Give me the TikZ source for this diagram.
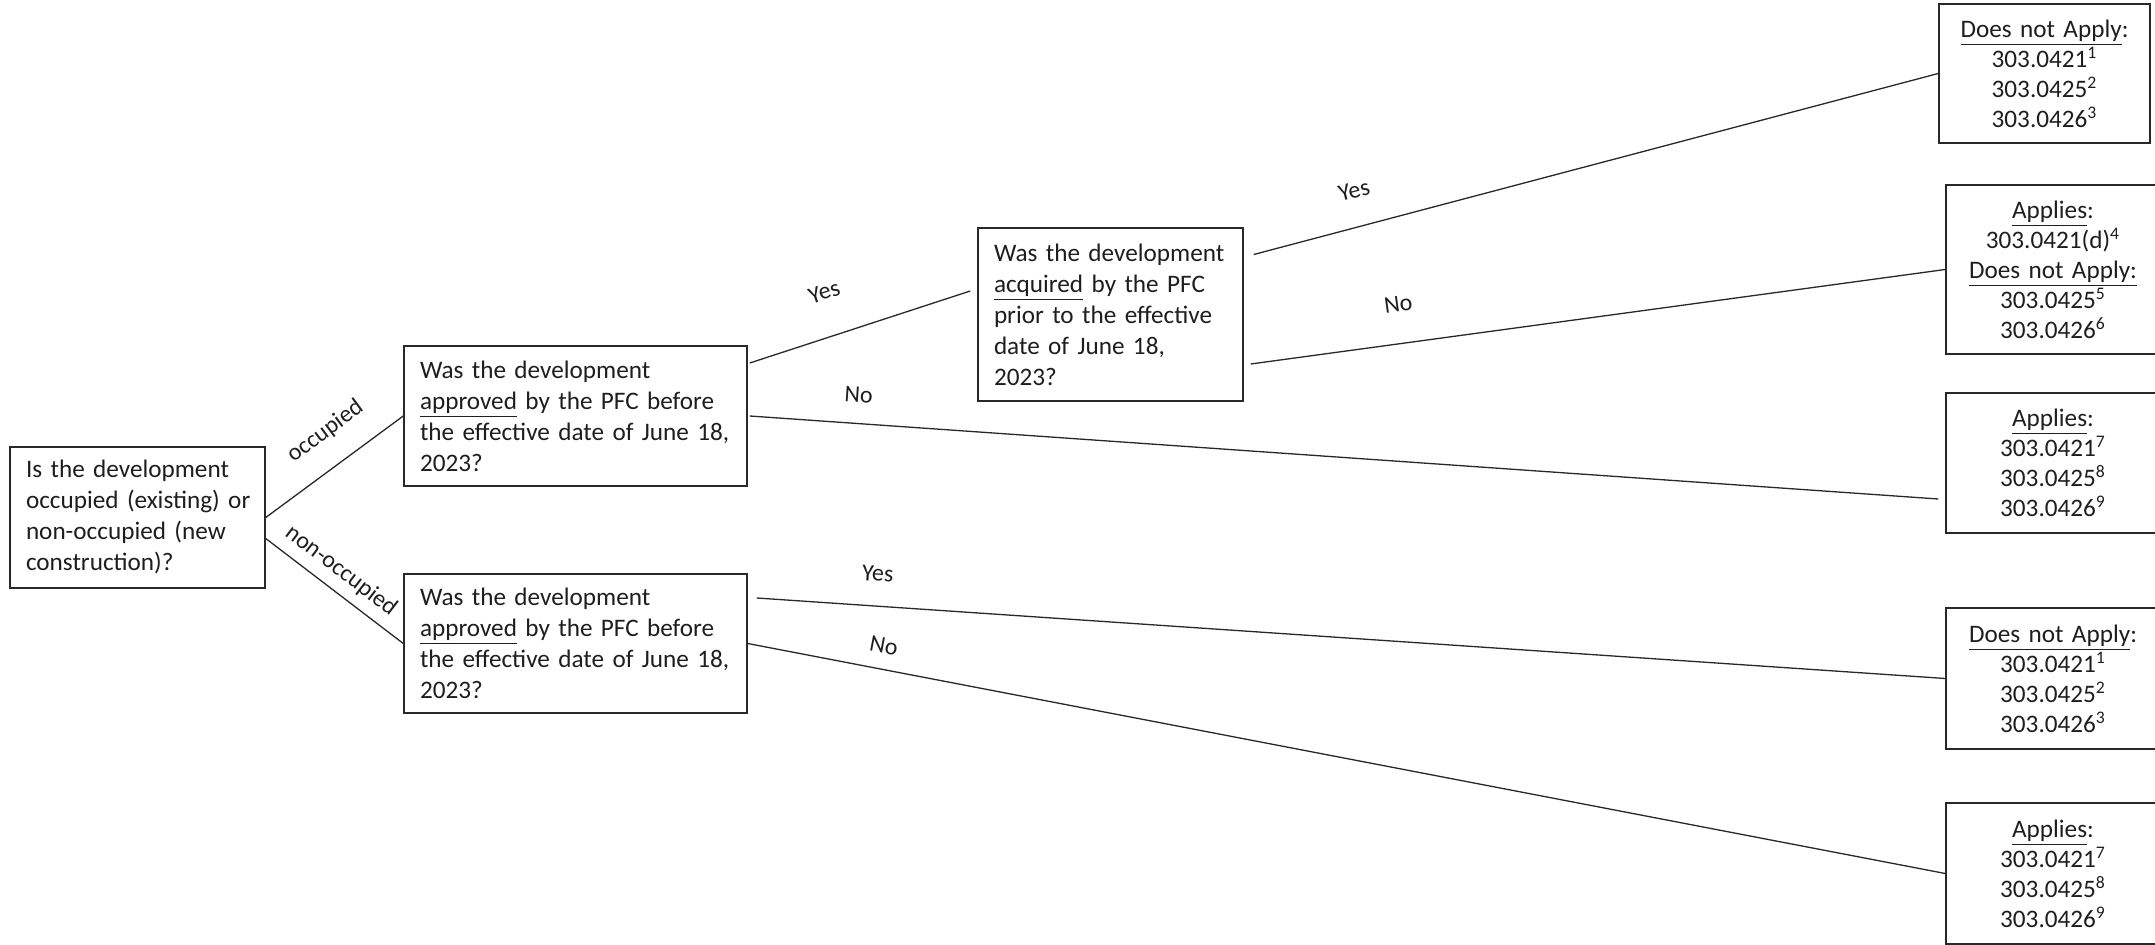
\documentclass[tikz,border=0pt]{standalone}
\usepackage{fontspec}
\setmainfont{Carlito}
\usepackage{tikz}
\usetikzlibrary{positioning}
\definecolor{treeInk}{RGB}{30, 30, 30}
\definecolor{treeRule}{RGB}{40, 40, 40}

\begin{document}
\begin{tikzpicture}[x=0.5pt, y=-0.5pt,
    question/.style={draw=treeRule, line width=0.75pt, text=treeInk, align=left,
        inner xsep=8pt, inner ysep=0pt, font=\fontsize{12.6pt}{15.5pt}\selectfont},
    outcome/.style={draw=treeRule, line width=0.75pt, text=treeInk, align=center,
        inner xsep=4pt, inner ysep=0pt, font=\fontsize{12.6pt}{15pt}\selectfont},
    branch/.style={draw=treeRule, line width=0.65pt},
    tag/.style={sloped, inner sep=0pt, text=treeInk, font=\fontsize{12pt}{14pt}\selectfont}]
    \useasboundingbox (0,0) rectangle (2155,945);
    \clip (0,0) rectangle (2155,945);

    \node[question, inner xsep=6pt, text width=115.5pt, minimum height=70.5pt] (start) at (137.5,517.5)
        {\hspace*{2pt}Is the development\\\hspace*{2pt}occupied (existing) or\\\hspace*{2pt}non-occupied (new\\\hspace*{2pt}construction)?};
    \node[question, text width=155.5pt, minimum height=70pt] (apprOcc) at (575.5,416)
        {Was the development\\\underline{approved} by the PFC before\\the effective date of June 18,\\2023?};
    \node[question, text width=155.5pt, minimum height=69.5pt] (apprNew) at (575.5,643.5)
        {Was the development\\\underline{approved} by the PFC before\\the effective date of June 18,\\2023?};
    \node[question, text width=116.5pt, minimum height=86.5pt] (acqOcc) at (1110.5,314.5)
        {Was the development\\\underline{acquired} by the PFC\\prior to the effective\\date of June 18,\\2023?};

    \node[outcome, text width=97.5pt, minimum height=69.5pt] (resA) at (2044.5,73.5)
        {\underline{Does not Apply}:\\303.0421\textsuperscript{1}\\303.0425\textsuperscript{2}\\303.0426\textsuperscript{3}};
    \node[outcome, text width=99pt, minimum height=84.5pt] (resB) at (2053,269.5)
        {\underline{Applies}:\\303.0421(d)\textsuperscript{4}\\\underline{Does not Apply:}\\303.0425\textsuperscript{5}\\303.0426\textsuperscript{6}};
    \node[outcome, text width=99pt, minimum height=70pt] (resC) at (2053,463)
        {\underline{Applies}:\\303.0421\textsuperscript{7}\\303.0425\textsuperscript{8}\\303.0426\textsuperscript{9}};
    \node[outcome, text width=99pt, minimum height=70.5pt] (resD) at (2053,678.5)
        {\underline{Does not Apply}:\\303.0421\textsuperscript{1}\\303.0425\textsuperscript{2}\\303.0426\textsuperscript{3}};
    \node[outcome, text width=99pt, minimum height=70.5pt] (resE) at (2053,873.5)
        {\underline{Applies}:\\303.0421\textsuperscript{7}\\303.0425\textsuperscript{8}\\303.0426\textsuperscript{9}};

    \draw[branch] (start.east) -- node[tag, pos=.58, above=11.5pt] {occupied} (apprOcc.west);
    \draw[branch] ([yshift=-10.5pt]start.east) -- node[tag, pos=.46, above=4.5pt] {non-occupied} (apprNew.west);

    \draw[branch] ([xshift=1pt,yshift=26.5pt]apprOcc.east) -- node[tag, pos=.40, above=18pt] {Yes}
        ([xshift=-3.5pt,yshift=11.75pt]acqOcc.west);
    \draw[branch] ([xshift=1pt]apprOcc.east) -- node[tag, pos=.09, above=10pt] {No}
        ([xshift=-3.5pt,yshift=-18pt]resC.west);

    \draw[branch] ([xshift=5pt,yshift=30pt]acqOcc.east) -- node[tag, pos=.16, above=14pt] {Yes} (resA.west);
    \draw[branch] ([xshift=3.5pt,yshift=-24.75pt]acqOcc.east) -- node[tag, pos=.22, above=15.5pt] {No} (resB.west);

    \draw[branch] ([xshift=4.5pt,yshift=22.75pt]apprNew.east) -- node[tag, pos=.10, above=12pt] {Yes} (resD.west);
    \draw[branch] (apprNew.east) -- node[tag, pos=.11, above=7.5pt] {No} (resE.west);
\end{tikzpicture}
\end{document}
